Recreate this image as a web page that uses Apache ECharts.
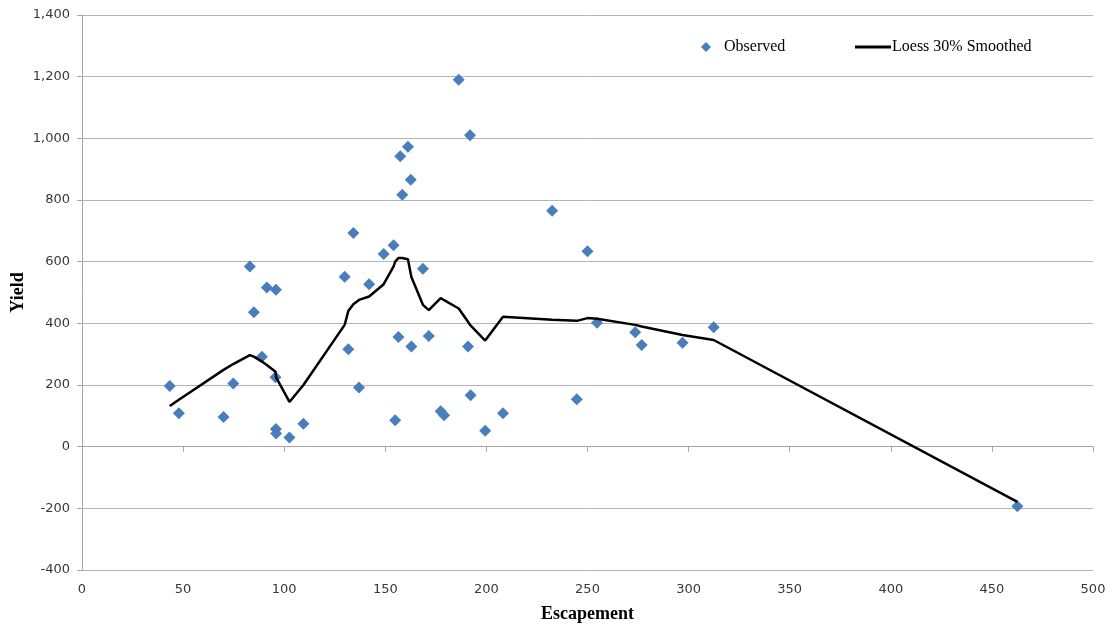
<!DOCTYPE html>
<html>
<head>
<meta charset="utf-8">
<script src="https://cdn.jsdelivr.net/npm/echarts@6/dist/echarts.min.js"></script>
<style>
html,body{margin:0;padding:0;background:#fff;}
#c{width:1112px;height:628px;}
</style>
</head>
<body>
<div id="c"></div>
<script>
// Observed data (sorted by escapement)
var obsX = [43.4, 47.9, 70, 74.8, 83, 85, 89, 91.4, 95.7, 95.9, 95.9, 96, 102.6, 109.5, 129.9, 131.7, 134.2, 137, 142, 149.2, 154.1, 154.9, 156.5, 157.4, 158.4, 161.2, 162.6, 162.9, 168.6, 171.5, 177.4, 179.1, 186.3, 190.9, 191.9, 192.2, 199.4, 208.2, 232.5, 244.7, 250, 254.7, 273.6, 276.8, 297, 312.4, 462.6];
var obsY = [197, 108, 96, 205, 584, 436, 292, 516, 225, 509, 57, 43, 30, 74, 551, 316, 693, 192, 527, 625, 653, 86, 356, 942, 817, 973, 866, 325, 577, 359, 115, 102, 1190, 325, 1010, 167, 52, 108, 765, 154, 634, 402, 371, 330, 337, 387, -193];
// Loess 30% smoothed values at the same escapements
var smoothY = [132, 152, 249, 268, 297, 292, 276, 265, 243, 238, 232, 225, 145, 200, 395, 440, 462, 476, 487, 527, 585, 600, 612, 614, 612, 608, 560, 550, 460, 443, 482, 475, 448, 405, 395, 390, 344, 421, 412, 408, 417, 415, 395, 390, 362, 346, -179];

var xTicks = {min: 0, max: 500, interval: 50};
var yTicks = {min: -400, max: 1400, interval: 200};

var obsData = obsX.map(function (x, i) { return [x, obsY[i]]; });
var lineData = obsX.map(function (x, i) { return [x, smoothY[i]]; });

var chart = echarts.init(document.getElementById('c'));
var labelFont = {fontFamily: 'DejaVu Sans', fontSize: 13, color: '#383838'};
var gridColor = '#b4b4b4';
chart.setOption({
  animation: false,
  backgroundColor: '#ffffff',
  grid: {left: 82, right: 19, top: 15, bottom: 58, containLabel: false, outerBoundsMode: 'none'},
  legend: [
    {data: ['Observed'], left: 696, top: 34, icon: 'diamond', itemWidth: 10, itemHeight: 10,
     textStyle: {fontFamily: 'Liberation Serif', fontSize: 16, color: '#000', padding: [0, 0, 0, 8]}},
    {data: ['Loess 30% Smoothed'], left: 850, top: 34, icon: 'rect', itemWidth: 36, itemHeight: 3,
     textStyle: {fontFamily: 'Liberation Serif', fontSize: 16, color: '#000', padding: [0, 0, 0, -4]}}
  ],
  xAxis: [
    {type: 'value', min: xTicks.min, max: xTicks.max, interval: xTicks.interval, position: 'bottom',
     name: 'Escapement', nameLocation: 'middle', nameGap: 35,
     nameTextStyle: {fontFamily: 'Liberation Serif', fontWeight: 'bold', fontSize: 18, color: '#000'},
     axisLine: {show: false, onZero: false}, axisTick: {show: false},
     axisLabel: Object.assign({margin: 13}, labelFont), splitLine: {show: false}},
    {type: 'value', min: xTicks.min, max: xTicks.max, interval: xTicks.interval, position: 'bottom',
     axisLine: {show: true, onZero: true, onZeroAxisIndex: 0, lineStyle: {color: '#a6a6a6', width: 1}},
     axisTick: {show: true, length: 5, lineStyle: {color: '#a6a6a6'}},
     axisLabel: {show: false}, splitLine: {show: false}}
  ],
  yAxis: {
    type: 'value', min: yTicks.min, max: yTicks.max, interval: yTicks.interval,
    name: 'Yield', nameLocation: 'middle', nameGap: 55, nameRotate: 90, nameMoveOverlap: false,
    nameTextStyle: {fontFamily: 'Liberation Serif', fontWeight: 'bold', fontSize: 18, color: '#000'},
    axisLine: {show: true, onZero: false, lineStyle: {color: '#a6a6a6', width: 1}},
    axisTick: {show: true, length: 5, lineStyle: {color: '#a6a6a6'}},
    axisLabel: Object.assign({margin: 12}, labelFont),
    splitLine: {show: true, lineStyle: {color: gridColor, width: 1}}
  },
  series: [
    {name: 'Observed', type: 'scatter', xAxisIndex: 0, data: obsData,
     symbol: 'diamond', symbolSize: 12, itemStyle: {color: '#4a7ebb', opacity: 1}},
    {name: 'Loess 30% Smoothed', type: 'line', xAxisIndex: 0, data: lineData,
     symbol: 'none', showSymbol: false, itemStyle: {color: '#000'},
     lineStyle: {color: '#000', width: 2.5}}
  ]
});
</script>
</body>
</html>
